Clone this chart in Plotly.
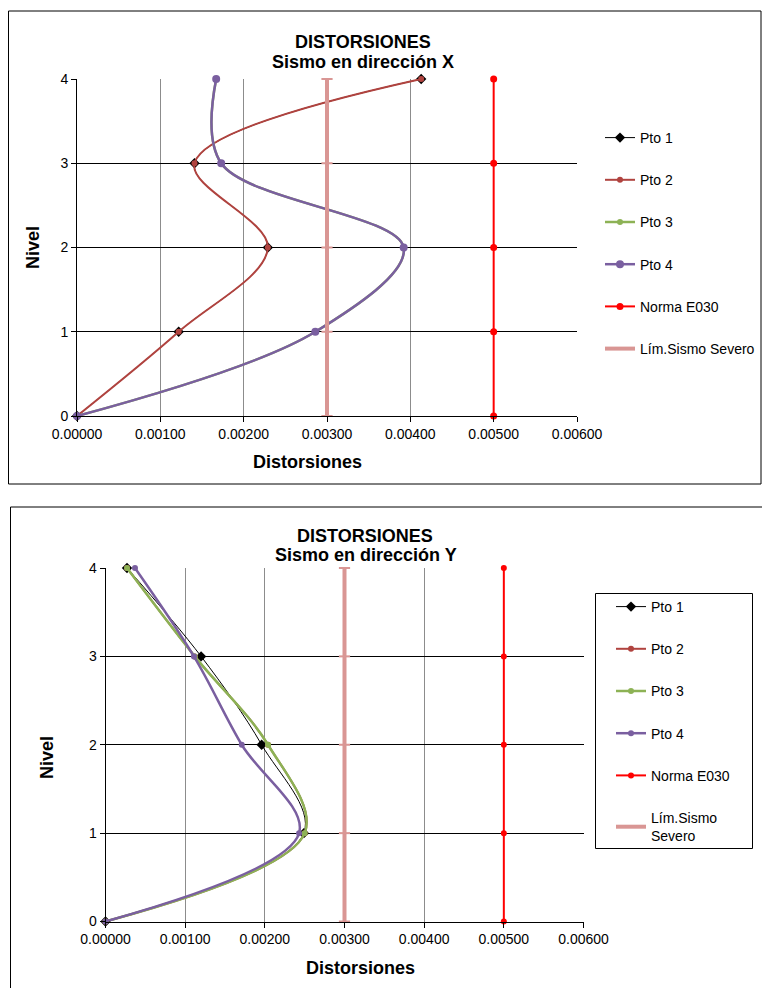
import plotly.graph_objects as go

# ---------------- data ----------------
niveles = [0, 1, 2, 3, 4]

# Sismo en dirección X
pto1_x = [0.0, 0.00122, 0.00229, 0.00141, 0.00413]
pto2_x = [0.0, 0.00122, 0.00229, 0.00141, 0.00413]
pto3_x = [0.0, 0.00286, 0.00392, 0.00173, 0.00167]
pto4_x = [0.0, 0.00286, 0.00392, 0.00173, 0.00167]

# Sismo en dirección Y
pto1_y = [0.0, 0.00249, 0.00196, 0.00120, 0.00027]
pto2_y = [0.0, 0.00250, 0.00204, 0.00112, 0.00027]
pto3_y = [0.0, 0.00250, 0.00204, 0.00112, 0.00027]
pto4_y = [0.0, 0.00243, 0.00171, 0.00111, 0.00037]

norma_e030 = [0.005, 0.005, 0.005, 0.005, 0.005]
lim_severo = [0.003, 0.003, 0.003, 0.003, 0.003]

x_ticks = [0.0, 0.001, 0.002, 0.003, 0.004, 0.005, 0.006]
y_ticks = [0, 1, 2, 3, 4]

W, H = 762, 988
FONT = "Liberation Sans, Arial, sans-serif"

C_P1 = "#000000"
C_P2 = "#B0433F"
C_P3 = "#8DB255"
C_P4 = "#7A5FA0"
C_NORMA = "#FF0000"
C_LIM = "#D99694"


def px(x):
    return x / W


def py(y):
    return 1 - y / H


fig = go.Figure()


def add_chart(xa, ya, legend, data, lim_name, big4):
    p1, p2, p3, p4 = data
    common = dict(xaxis=xa, yaxis=ya, legend=legend, mode="lines+markers",
                  cliponaxis=False)
    fig.add_trace(go.Scatter(x=p1, y=niveles, name="Pto 1", legendgroup=legend + "a",
                             line=dict(color=C_P1, width=1, shape="spline", smoothing=1),
                             marker=dict(symbol="diamond", size=8, color=C_P1), **common))
    fig.add_trace(go.Scatter(x=p2, y=niveles, name="Pto 2", legendgroup=legend + "b",
                             line=dict(color=C_P2, width=2, shape="spline", smoothing=1),
                             marker=dict(symbol="circle", size=6, color=C_P2), **common))
    fig.add_trace(go.Scatter(x=p3, y=niveles, name="Pto 3", legendgroup=legend + "c",
                             line=dict(color=C_P3, width=2.5, shape="spline", smoothing=1),
                             marker=dict(symbol="circle", size=6, color=C_P3), **common))
    fig.add_trace(go.Scatter(x=p4, y=niveles, name="Pto 4", legendgroup=legend + "d",
                             line=dict(color=C_P4, width=2.5, shape="spline", smoothing=1),
                             marker=dict(symbol="circle", size=8 if big4 else 6, color=C_P4), **common))
    fig.add_trace(go.Scatter(x=norma_e030, y=niveles, name="Norma E030", legendgroup=legend + "e",
                             line=dict(color=C_NORMA, width=2),
                             marker=dict(symbol="circle", size=7 if big4 else 6, color=C_NORMA), **common))
    fig.add_trace(go.Scatter(x=lim_severo, y=niveles, name=lim_name, legendgroup=legend + "f",
                             line=dict(color=C_LIM, width=4),
                             marker=dict(symbol="line-ew", size=8, color=C_LIM,
                                         line=dict(color=C_LIM, width=2)), **common))


add_chart("x", "y", "legend", (pto1_x, pto2_x, pto3_x, pto4_x), "Lím.Sismo Severo", True)
add_chart("x2", "y2", "legend2", (pto1_y, pto2_y, pto3_y, pto4_y), "Lím.Sismo<br>Severo", False)

xaxis_common = dict(range=[0, 0.006], tickvals=x_ticks, ticktext=[f"{v:.5f}" for v in x_ticks],
                    showgrid=True, gridcolor="#8C8C8C", gridwidth=1,
                    showline=True, linecolor="#000000", linewidth=1,
                    ticks="outside", ticklen=5, tickcolor="#000000",
                    tickfont=dict(family=FONT, size=14, color="#000000"),
                    zeroline=False, fixedrange=True, automargin=False)
yaxis_common = dict(range=[0, 4], tickvals=y_ticks,
                    showgrid=True, gridcolor="#000000", gridwidth=1,
                    showline=True, linecolor="#000000", linewidth=1,
                    ticks="outside", ticklen=5, tickcolor="#000000",
                    tickfont=dict(family=FONT, size=14, color="#000000"),
                    zeroline=False, fixedrange=True, automargin=False)

fig.update_layout(
    width=W, height=H,
    margin=dict(l=0, r=0, t=0, b=0, autoexpand=False),
    paper_bgcolor="white", plot_bgcolor="white",
    font=dict(family=FONT, size=14, color="#000000"),
    xaxis=dict(domain=[px(77), px(577)], anchor="y", **xaxis_common),
    yaxis=dict(domain=[py(416), py(79)], anchor="x", **yaxis_common),
    xaxis2=dict(domain=[px(105.5), px(583.5)], anchor="y2", **xaxis_common),
    yaxis2=dict(domain=[py(921.5), py(568)], anchor="x2", **yaxis_common),
    legend=dict(x=px(600), y=py(122), xanchor="left", yanchor="top",
                bgcolor="rgba(0,0,0,0)", borderwidth=0, tracegroupgap=21,
                font=dict(family=FONT, size=14, color="#000000"), itemwidth=30),
    legend2=dict(x=px(611), y=py(591), xanchor="left", yanchor="top",
                 bgcolor="rgba(0,0,0,0)", borderwidth=0, tracegroupgap=21,
                 font=dict(family=FONT, size=14, color="#000000"), itemwidth=30),
    showlegend=True,
)

# outer chart borders
fig.add_shape(type="rect", xref="paper", yref="paper", x0=px(8.5), x1=px(761), y0=py(484), y1=py(11),
              line=dict(color="#000000", width=1), layer="below")
fig.add_shape(type="rect", xref="paper", yref="paper", x0=px(10.5), x1=px(775), y0=py(995), y1=py(507),
              line=dict(color="#000000", width=1), layer="below")
# legend frame of the lower chart
fig.add_shape(type="rect", xref="paper", yref="paper", x0=px(595.5), x1=px(752.5), y0=py(848.5), y1=py(593.5),
              line=dict(color="#000000", width=1), fillcolor="white", layer="below")

# titles and axis titles
def ann(text, x, y, size, angle=0):
    fig.add_annotation(text=text, x=px(x), y=py(y), xref="paper", yref="paper",
                       showarrow=False, xanchor="center", yanchor="middle", textangle=angle,
                       font=dict(family=FONT, size=size, color="#000000"))

ann("<b>DISTORSIONES</b>", 363, 42, 18)
ann("<b>Sismo en dirección X</b>", 363, 62, 18)
ann("<b>Nivel</b>", 33, 248, 18, -90)
ann("<b>Distorsiones</b>", 307, 462, 18)

ann("<b>DISTORSIONES</b>", 365, 536, 18)
ann("<b>Sismo en dirección Y</b>", 366, 555, 18)
ann("<b>Nivel</b>", 47, 758, 18, -90)
ann("<b>Distorsiones</b>", 360, 968, 18)

fig.write_html("out.html")
